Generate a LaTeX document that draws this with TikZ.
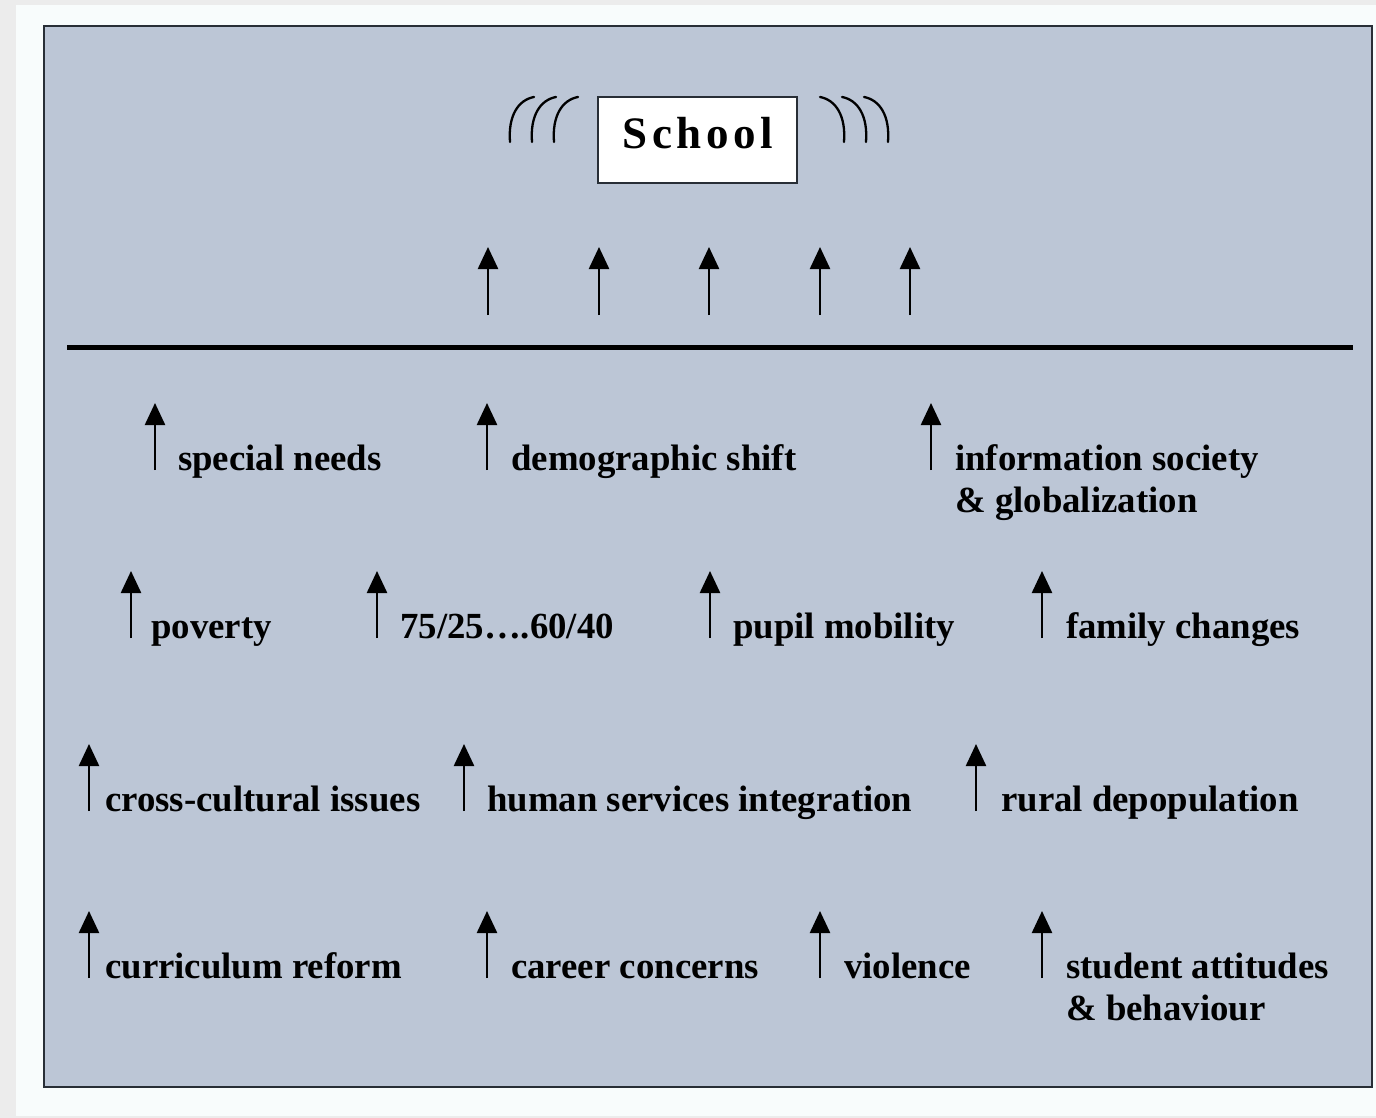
\documentclass[tikz,border=0pt]{standalone}
\usepackage{fontspec}
\setmainfont{Liberation Serif}
\usetikzlibrary{arrows.meta}
\definecolor{panel}{RGB}{188,198,214}
\definecolor{paper}{RGB}{248,252,252}
\definecolor{rim}{RGB}{236,236,236}
\definecolor{frameline}{RGB}{40,46,54}
\begin{document}
\begin{tikzpicture}[x=1pt,y=-1pt,
  up/.style={line width=2.4pt,-{Triangle[length=22pt,width=20pt]}},
  factor/.style={anchor=base west,inner sep=0pt,font=\fontsize{36.8}{42}\selectfont\bfseries},
  wave/.style={line width=2.3pt,line cap=round}]
\useasboundingbox (0,0) rectangle (1376,1118);
\fill[rim] (0,0) rectangle (1376,1118);
\fill[paper] (16,5) rectangle (1376,1116);
\draw[frameline,line width=2pt,fill=panel] (44,26) rectangle (1372,1087);

% the school
\node[draw=frameline,line width=2pt,fill=white,minimum width=199pt,minimum height=86pt,
      text depth=14pt,font=\fontsize{45}{50}\selectfont\bfseries\addfontfeatures{LetterSpace=10}]
      (school) at (697.5,140) {School};
\foreach \k in {0,1,2}{
  \draw[wave] (510+22*\k,142) .. controls (508+22*\k,116) and (518+22*\k,100) .. (534+22*\k,97);
  \draw[wave] (888-22*\k,142) .. controls (890-22*\k,116) and (880-22*\k,100) .. (864-22*\k,97);
}
\foreach \x in {488,599,709,820,910}
  \draw[up] (\x,315) -- (\x,247);

\coordinate (l) at (67,347);
\coordinate (r) at (1353,347);
\draw[line width=5pt] (l) -- (r);

% row one
\coordinate (a1) at (155,470);
\coordinate (a2) at (487,470);
\coordinate (a3) at (931,470);
\node[factor] (spec) at (178,470) {special needs};
\node[factor] (demo) at (511,470) {demographic shift};
\node[factor] (info) at (955,470) {\begin{tabular}[t]{@{}l@{}}information society\\ \& globalization\end{tabular}};

% row two
\coordinate (b1) at (131,638);
\coordinate (b2) at (377,638);
\coordinate (b3) at (710,638);
\coordinate (b4) at (1042,638);
\node[factor] (pov) at (151,638) {poverty};
\node[factor] (ratio) at (400,638) {75/25\ldots.60/40};
\node[factor] (mob) at (733,638) {pupil mobility};
\node[factor] (fam) at (1066,638) {family changes};

% row three
\coordinate (c1) at (89,811);
\coordinate (c2) at (464,811);
\coordinate (c3) at (976,811);
\node[factor] (cross) at (105,811) {cross-cultural issues};
\node[factor] (human) at (487,811) {human services integration};
\node[factor] (rural) at (1001,811) {rural depopulation};

% row four
\coordinate (d1) at (89,978);
\coordinate (d2) at (487,978);
\coordinate (d3) at (820,978);
\coordinate (d4) at (1042,978);
\node[factor] (curr) at (105,978) {curriculum reform};
\node[factor] (career) at (511,978) {career concerns};
\node[factor] (viol) at (844,978) {violence};
\node[factor] (stud) at (1066,978) {\begin{tabular}[t]{@{}l@{}}student attitudes\\ \& behaviour\end{tabular}};

\foreach \a in {a1,a2,a3,b1,b2,b3,b4,c1,c2,c3,d1,d2,d3,d4}
  \draw[up] (\a) -- ++(0,-67);
\end{tikzpicture}
\end{document}
